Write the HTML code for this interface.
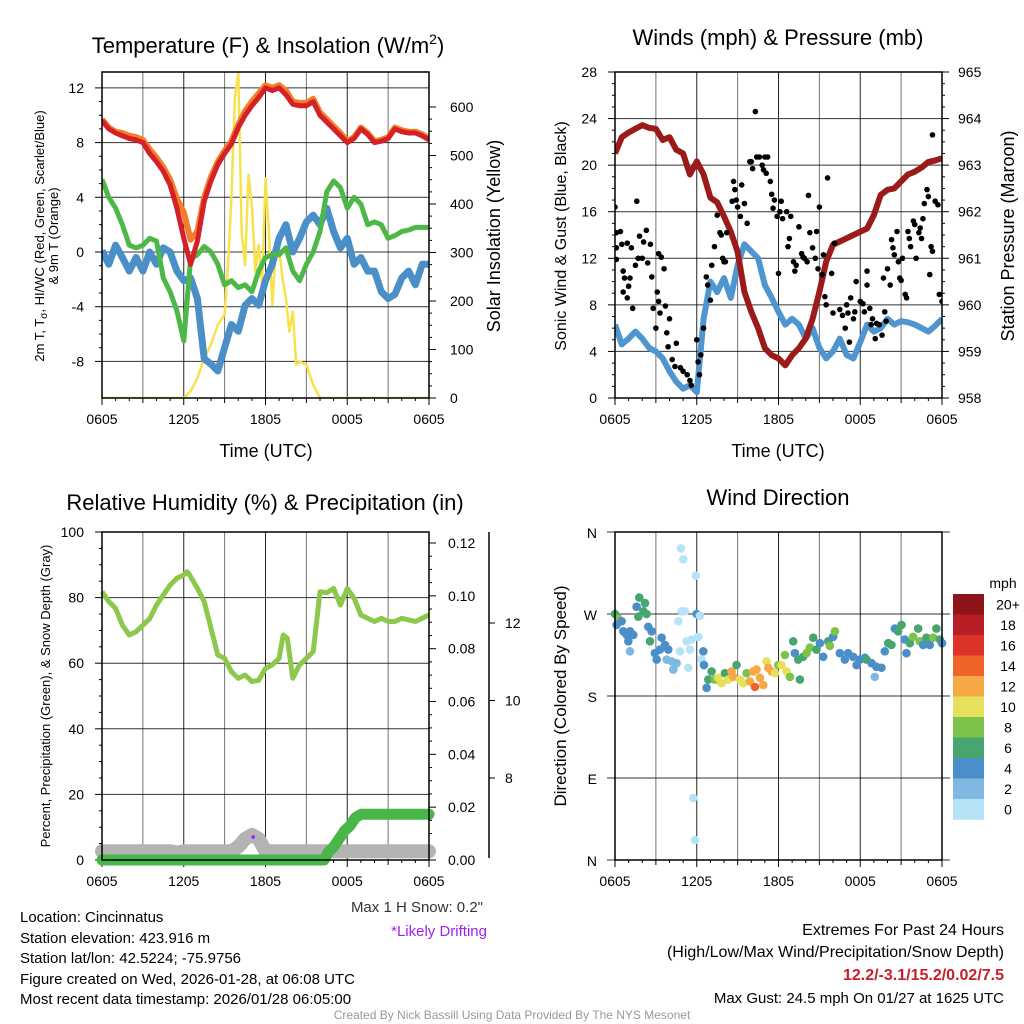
<!DOCTYPE html>
<html><head><meta charset="utf-8">
<style>
html,body{margin:0;padding:0;background:#fff;}
svg{display:block;font-family:"Liberation Sans",Arial,sans-serif;}
</style></head>
<body>
<svg id="root" width="1024" height="1024" viewBox="0 0 1024 1024" xmlns="http://www.w3.org/2000/svg">
<g id="texts" fill="#000">
<text x="268" y="53" font-size="22" text-anchor="middle">Temperature (F) &amp; Insolation (W/m<tspan font-size="14" dy="-9">2</tspan><tspan dy="9">)</tspan></text>
<text x="778" y="45" font-size="22" text-anchor="middle">Winds (mph) &amp; Pressure (mb)</text>
<text x="265" y="510" font-size="22" text-anchor="middle">Relative Humidity (%) &amp; Precipitation (in)</text>
<text x="778" y="505" font-size="22" text-anchor="middle">Wind Direction</text>
<text x="266" y="457" font-size="18" text-anchor="middle">Time (UTC)</text>
<text x="778" y="457" font-size="18" text-anchor="middle">Time (UTC)</text>
<text transform="translate(44,236) rotate(-90)" font-size="13" text-anchor="middle">2m T, T<tspan font-size="10" dy="3">σ</tspan><tspan dy="-3">, HI/WC (Red, Green, Scarlet/Blue)</tspan></text>
<text transform="translate(58,236) rotate(-90)" font-size="13" text-anchor="middle">&amp; 9m T (Orange)</text>
<text transform="translate(500,236) rotate(-90)" font-size="18" text-anchor="middle">Solar Insolation (Yellow)</text>
<text transform="translate(566,236) rotate(-90)" font-size="16" text-anchor="middle">Sonic Wind &amp; Gust (Blue, Black)</text>
<text transform="translate(1014,236) rotate(-90)" font-size="18" text-anchor="middle">Station Pressure (Maroon)</text>
<text transform="translate(50,696) rotate(-90)" font-size="13" text-anchor="middle">Percent, Precipitation (Green), &amp; Snow Depth (Gray)</text>
<text transform="translate(566,696) rotate(-90)" font-size="17" text-anchor="middle">Direction (Colored By Speed)</text>
<text x="483" y="912" font-size="15" text-anchor="end" fill="#333">Max 1 H Snow: 0.2"</text>
<text x="487" y="936" font-size="15" text-anchor="end" fill="#a020f0">*Likely Drifting</text>
<text x="20" y="922" font-size="15">Location: Cincinnatus</text>
<text x="20" y="943" font-size="15">Station elevation: 423.916 m</text>
<text x="20" y="963" font-size="15">Station lat/lon: 42.5224; -75.9756</text>
<text x="20" y="984" font-size="15">Figure created on Wed, 2026-01-28, at 06:08 UTC</text>
<text x="20" y="1004" font-size="15">Most recent data timestamp: 2026/01/28 06:05:00</text>
<text x="1004" y="935" font-size="16" text-anchor="end">Extremes For Past 24 Hours</text>
<text x="1004" y="957" font-size="16" text-anchor="end">(High/Low/Max Wind/Precipitation/Snow Depth)</text>
<text x="1004" y="980" font-size="16" font-weight="bold" text-anchor="end" fill="#c8202a">12.2/-3.1/15.2/0.02/7.5</text>
<text x="1004" y="1003" font-size="15" text-anchor="end">Max Gust: 24.5 mph On 01/27 at 1625 UTC</text>
<text x="512" y="1019" font-size="12" text-anchor="middle" fill="#999">Created By Nick Bassill Using Data Provided By The NYS Mesonet</text>
<text x="1003" y="588" font-size="14" text-anchor="middle">mph</text>
</g>
</svg>
<script>
// ---------- DATA ----------
const hourTicks = ["0605","1205","1805","0005","0605"];
const halfHours = [0,0.5,1,1.5,2,2.5,3,3.5,4,4.5,5,5.5,6,6.5,7,7.5,8,8.5,9,9.5,10,10.5,11,11.5,12,12.5,13,13.5,14,14.5,15,15.5,16,16.5,17,17.5,18,18.5,19,19.5,20,20.5,21,21.5,22,22.5,23,23.5,24];
const temp2m = [9.6,9.0,8.7,8.5,8.3,8.2,8.0,7.2,6.6,5.9,4.9,3.2,1.0,-0.9,0.8,3.7,5.2,6.4,7.2,7.9,9.1,10.0,10.7,11.3,12.0,11.8,12.0,11.5,10.8,10.7,10.7,11.0,10.0,9.5,9.0,8.5,8.0,8.3,9.0,8.6,8.0,8.1,8.3,9.0,8.8,8.7,8.7,8.5,8.2];
const temp9m = [9.7,9.1,8.8,8.7,8.5,8.4,8.2,7.5,6.9,6.2,5.3,3.9,2.9,0.9,1.5,4.0,5.5,6.6,7.4,8.1,9.3,10.3,11.0,11.6,12.2,12.0,12.2,11.8,11.0,10.9,10.9,11.2,10.2,9.7,9.2,8.7,8.1,8.4,9.1,8.7,8.1,8.2,8.4,9.1,8.9,8.8,8.8,8.6,8.3];
const tempGreen = [5.3,4.0,3.2,2.0,0.5,0.3,0.5,1.0,0.8,-1.9,-2.9,-4.3,-6.5,-0.5,-0.2,0.4,0.0,-0.9,-2.4,-2.1,-2.6,-2.4,-2.9,-1.4,-0.4,-0.2,-0.2,0.3,-1.4,-2.1,-0.9,0.0,1.5,4.4,5.2,4.7,3.2,4.0,3.5,2.0,2.2,2.0,1.0,1.2,1.5,1.6,1.8,1.8,1.8];
const tempBlue = [0.1,-0.9,0.5,-0.4,-1.4,-0.4,-1.4,0.0,-0.9,0.3,0.0,-1.4,-2.1,-1.9,-3.4,-7.8,-8.2,-8.7,-7.0,-5.3,-5.8,-3.9,-3.4,-3.9,-2.1,-0.9,1.0,2.0,0.0,1.0,2.2,2.7,2.0,3.2,1.5,0.3,1.0,-0.9,-0.4,-1.4,-1.4,-2.9,-3.4,-3.1,-1.9,-1.4,-2.4,-0.9,-0.9];
const solarHours = [0,6,6.5,7,7.5,8,8.5,9,9.25,9.5,9.75,10,10.25,10.5,10.75,11,11.25,11.5,11.75,12,12.25,12.5,12.75,13,13.25,13.5,13.75,14,14.25,14.5,15,15.5,16,24];
const solarValues = [0,0,14,41,82,110,151,172,274,412,617,672,343,274,460,398,261,316,233,453,343,192,302,309,247,206,137,178,69,75,69,27,0,0];
const pressure = [963.25,963.6,963.7,963.78,963.86,963.8,963.78,963.54,963.6,963.33,963.25,962.8,963.08,962.8,962.3,962.2,961.9,961.57,961.14,960.28,959.85,959.5,959.07,958.92,958.85,958.7,958.92,959.07,959.28,959.7,960.28,960.93,961.29,961.36,961.43,961.5,961.57,961.64,961.93,962.36,962.47,962.5,962.65,962.8,962.86,962.95,963.07,963.1,963.15];
const sonicWind = [6.3,4.6,5.1,5.7,5.1,4.3,4.0,3.4,2.3,1.4,0.8,1.1,0.5,6.8,10.0,9.1,10.3,8.6,11.4,13.2,12.6,12.0,9.7,8.6,7.4,6.3,6.8,6.3,5.1,6.0,4.3,3.4,4.0,5.1,3.7,3.4,4.8,6.3,5.7,6.0,6.8,6.3,6.6,6.5,6.3,6.0,5.7,6.2,6.8];
const gustHours = [0,0.1,0.4,0.1,0.5,0.1,0.9,1.2,0.6,0.7,1.0,0.6,0.9,1.1,1.3,1.5,1.6,1.7,1.8,2.1,2.3,2.0,2.4,2.6,2.7,2.8,3.0,3.2,3.4,3.6,3.1,3.2,3.3,3.7,3.8,3.9,4.0,4.2,4.4,4.5,4.8,5.0,5.3,5.5,5.6,6.0,6.1,6.2,6.3,6.5,6.7,6.8,7.0,7.1,7.3,7.5,7.7,7.8,7.9,8.0,8.1,8.2,8.6,8.7,8.8,8.9,9.0,9.2,9.3,9.5,9.7,9.9,10.0,10.1,10.3,10.4,10.6,10.8,10.9,11.1,11.0,11.2,11.4,11.5,11.6,11.7,11.9,12.0,12.1,12.2,12.3,12.6,12.7,12.8,12.9,13.1,13.2,13.3,13.5,13.7,13.8,13.9,14.1,14.2,14.3,14.5,14.7,14.8,14.9,15.0,15.2,15.3,15.4,15.5,15.6,15.9,16.1,16.0,16.5,16.7,16.9,17.0,17.1,17.2,17.3,17.5,17.6,17.7,18.0,18.2,18.3,18.5,18.5,18.7,18.8,18.9,19.1,19.2,19.4,19.6,19.7,19.8,19.9,20.0,20.2,20.3,20.4,20.5,20.7,20.8,20.9,21.0,21.1,21.3,21.4,21.5,21.6,21.7,21.9,22.0,22.1,22.3,22.4,22.5,22.6,22.7,22.9,23.0,23.1,23.2,23.3,23.3,23.5,23.7,23.8,24.0];
const gustMph = [16.4,14.2,14.3,12.9,13.2,11.9,13.3,12.9,10.9,10.3,9.6,9.1,8.6,10.3,7.7,11.4,16.9,12.0,13.9,13.4,14.4,12.0,11.6,13.2,10.4,7.7,6.0,12.4,12.1,11.1,9.1,8.3,7.3,7.9,5.6,4.4,6.8,3.3,2.7,4.7,2.6,2.3,2.0,1.5,1.1,5.0,3.1,2.0,3.7,6.0,10.4,9.7,8.4,11.4,13.0,15.7,14.2,14.0,12.0,11.7,11.7,14.2,16.9,18.6,17.9,17.0,16.4,15.6,18.3,16.7,15.0,20.3,20.3,19.7,24.6,20.7,20.7,20.0,19.6,19.3,20.7,20.7,18.6,17.5,16.3,17.0,15.6,10.7,16.0,16.9,15.4,16.0,13.0,13.7,15.6,11.7,10.9,11.4,14.7,12.4,12.1,12.0,11.7,17.4,14.2,12.9,12.0,14.3,11.1,16.4,10.6,12.3,8.7,8.0,18.9,10.7,13.3,7.3,7.6,7.1,6.0,8.0,7.3,4.8,8.6,6.8,7.4,10.0,8.3,8.1,7.4,9.7,10.9,7.7,6.3,6.8,5.1,6.4,6.3,5.4,10.3,7.4,6.6,11.1,9.7,13.6,12.9,12.3,14.3,11.7,10.3,10.1,12.0,8.9,8.6,14.3,13.7,13.0,15.2,14.9,12.0,14.2,14.6,13.7,15.4,16.7,17.9,17.3,10.6,13.0,22.6,12.6,16.9,16.6,8.9,8.3];
const rhHours = [0,0.5,1,1.5,2,2.5,3,3.5,4,4.5,5,5.5,6,6.25,6.5,7,7.5,8,8.5,9,9.5,10,10.5,11,11.5,12,12.5,13,13.3,13.6,14,14.5,15,15.5,16,16.5,17,17.5,18,18.5,19,19.5,20,20.5,21,21.5,22,23,24];
const rhValues = [81.8,78.8,76.7,71.6,68.6,69.6,71.6,73.6,77.7,80.8,83.8,85.9,86.9,87.9,86.4,82.8,78.8,70.6,62.5,61.5,57.4,55.4,56.4,54.4,54.8,58.4,59.5,61.5,68.6,67.6,55.4,59.5,61.5,63.5,81.8,81.5,82.8,77.7,82.8,79.8,74.7,73.7,72.7,73.7,72.7,72.7,73.7,72.7,74.7];
const precipHours = [0,16.3,16.6,17.0,17.4,17.8,18.2,18.6,19.0,24];
const precipValues = [0,0,0.003,0.005,0.008,0.011,0.013,0.016,0.0173,0.0173];
const snowHours = [0,5,5.5,6,9.5,10,10.5,11,11.5,12,24];
const snowValues = [0.0033,0.0033,0.0028,0.0033,0.0033,0.005,0.008,0.0095,0.008,0.0033,0.0033];
const driftHours = [11.1];
const driftValues = [0.0087];
const wdHours = [0,0.24,0.12,0.49,0.61,0.86,1.10,1.34,0.98,1.10,1.59,1.78,2.20,2.08,1.71,2.32,2.44,2.69,2.57,2.93,3.06,3.42,3.67,3.30,3.91,3.79,4.16,4.28,4.52,4.77,4.65,4.89,5.13,4.84,5.01,5.94,5.26,5.50,5.62,5.38,5.99,6.23,6.11,6.36,6.48,6.53,5.75,5.87,6.72,6.85,7.09,7.33,7.58,7.82,8.07,8.31,8.56,8.68,8.92,9.17,9.41,9.66,9.90,10.15,10.27,10.39,10.64,10.88,11.12,11.25,11.49,11.74,11.98,12.22,12.47,12.59,12.84,13.08,13.20,13.45,13.57,13.81,14.06,14.30,14.55,14.79,15.04,15.28,15.65,15.77,16.01,16.14,16.50,16.87,17.11,17.48,17.73,17.97,18.34,18.46,18.83,19.07,19.19,19.56,19.80,20.05,20.29,20.54,20.78,21.03,21.27,21.39,21.64,21.88,22.25,22.37,22.62,22.86,23.10,23.35,23.59,23.84,24.0];
const wdDeg = [270,265,258,262,251,247,251,247,240,229,278,288,282,273,267,270,256,251,240,227,220,244,236,231,231,220,218,209,216,229,262,273,273,342,330,312,240,231,242,211,270,268,245,220,229,214,68,22,189,198,207,198,200,194,205,198,207,201,214,198,194,205,196,207,190,209,200,192,218,211,207,205,214,214,225,207,201,240,227,220,198,223,227,233,244,231,238,223,240,235,245,251,227,220,227,223,214,220,222,220,216,201,212,211,229,238,236,254,251,258,242,227,238,245,254,240,236,244,236,244,254,242,238];
const wdSpeed = [7,9,5,5,5,5,5,5,5,3,5,7,7,7,7,7,5,5,7,5,5,5,5,5,5,3,3,3,3,1,1,1,1,1,1,1,1,1,1,1,5,1,1,1,5,5,1,1,5,7,7,9,11,11,7,11,13,13,7,11,11,9,13,13,15,13,13,13,11,13,13,11,9,11,9,11,9,7,5,7,7,7,9,9,7,7,5,5,7,9,5,9,5,5,5,5,5,5,5,7,5,3,5,5,5,7,7,5,7,7,5,5,7,9,7,9,5,7,5,9,7,7,5];
const speedBins = ["0","2","4","6","8","10","12","14","16","18","20+"];
const speedColors = ["#b6e3f8","#7fb9e3","#4a8fc8","#47a56f","#7dc24a","#e6e05a","#f5a843","#ef6329","#dc3328","#b91d26","#8d151a"];
const tempTicks = [-8,-4,0,4,8,12];
const solarTicks = [0,100,200,300,400,500,600];
const windTicks = [0,4,8,12,16,20,24,28];
const presTicks = [958,959,960,961,962,963,964,965];
const rhTicks = [0,20,40,60,80,100];
const precipTicks = [0,0.02,0.04,0.06,0.08,0.10,0.12];
const snowTicks = [8,10,12];
const dirTicks = ["N","E","S","W","N"];

// ---------- HELPERS ----------
const NS = "http://www.w3.org/2000/svg";
const root = document.getElementById("root");
function mk(tag, attrs, parent) {
  const e = document.createElementNS(NS, tag);
  for (const k in attrs) e.setAttribute(k, attrs[k]);
  (parent || root).appendChild(e);
  return e;
}
function lin(d0, d1, r0, r1) { return v => r0 + (v - d0) / (d1 - d0) * (r1 - r0); }
function pathD(xs, ys, sx, sy) {
  return xs.map((x, i) => (i ? "L" : "M") + sx(x).toFixed(1) + "," + sy(ys[i]).toFixed(1)).join("");
}
function txt(x, y, s, size, anchor, parent) {
  const t = mk("text", {x: x, y: y, "font-size": size, "text-anchor": anchor || "middle"}, parent);
  t.textContent = s;
  return t;
}
function frame(L, T, R, B, name) {
  const g = mk("g", {});
  
  
  const sx = lin(0, 24, L, R);
  for (let h = 3; h < 24; h += 3) {
    const l = mk("line", {x1: sx(h), x2: sx(h), y1: T, y2: B, stroke: "#000", "stroke-width": 1, "stroke-opacity": (h % 6 ? 0.55 : 0.85)}, g);
    
    
  }
  for (let h = 0; h <= 24; h += 1) {
    const major = h % 6 === 0;
    const mid = h % 3 === 0;
    const tk = mk("line", {x1: sx(h), x2: sx(h), y1: B, y2: B + (major ? 7 : (mid ? 5 : 3)), stroke: "#000", "stroke-width": 1}, g);
    
    
  }
  hourTicks.forEach((s, i) => {
    const t = txt(sx(i * 6), B + 26, s, 14, "middle", g);
    
    
  });
  return {g: g, sx: sx};
}
function hgrid(g, ticks, sy, L, R, ext) {
  ticks.forEach(v => {
    const l = mk("line", {x1: L, x2: R + (ext || 0), y1: sy(v), y2: sy(v), stroke: "#000", "stroke-width": 1, "stroke-opacity": 0.8}, g);
    
    
  });
}
function yTicks(g, ticks, sy, x, dir) {
  for (let i = 0; i < ticks.length; i++) {
    const a = ticks[i];
    const tk = mk("line", {x1: x, x2: x + dir * 7, y1: sy(a), y2: sy(a), stroke: "#000"}, g);
    
    
    if (i + 1 < ticks.length) {
      const b = ticks[i + 1];
      for (let k = 1; k < 4; k++) {
        const v = a + (b - a) * k / 4;
        const m = mk("line", {x1: x, x2: x + dir * 3, y1: sy(v), y2: sy(v), stroke: "#000"}, g);
        
        
      }
    }
  }
}
function yLabels(g, ticks, sy, x, anchor, fmt, size) {
  ticks.forEach(v => {
    const t = txt(x, sy(v) + 5, fmt ? fmt(v) : String(v), size || 14, anchor, g);
    
    
  });
}
function border(g, L, T, R, B) {
  const r = mk("rect", {x: L, y: T, width: R - L, height: B - T, fill: "none", stroke: "#000", "stroke-width": 1.5}, g);
  
  
}

// ---------- PANEL 1: Temperature ----------
(function(){
  const L = 102, T = 72, R = 429, B = 398;
  const f = frame(L, T, R, B, "temperature-panel");
  const g = f.g, sx = f.sx;
  const sy = lin(0, 4, 252, 197.3);
  const sS = lin(0, 600, 398, 107);
  hgrid(g, tempTicks, sy, L, R);
  yTicks(g, tempTicks, sy, L, -1);
  yTicks(g, solarTicks, sS, R, 1);
  yLabels(g, tempTicks, sy, 84, "end");
  yLabels(g, solarTicks, sS, 450, "start");
  const clip = mk("clipPath", {id: "c1"}, g);
  mk("rect", {x: L, y: T, width: R - L, height: B - T}, clip);
  const pg = mk("g", {"clip-path": "url(#c1)"}, g);
  const pSolar = mk("path", {d: pathD(solarHours, solarValues, sx, sS), fill: "none", stroke: "#f9e14b", "stroke-width": 2.5, "stroke-linejoin": "round"}, pg);
  
  
  const pBlue = mk("path", {d: pathD(halfHours, tempBlue, sx, sy), fill: "none", stroke: "#4a8fc8", "stroke-width": 7, "stroke-linejoin": "round"}, pg);
  
  
  const pGreen = mk("path", {d: pathD(halfHours, tempGreen, sx, sy), fill: "none", stroke: "#4db848", "stroke-width": 5, "stroke-linejoin": "round"}, pg);
  
  
  const pOr = mk("path", {d: pathD(halfHours, temp9m, sx, sy), fill: "none", stroke: "#f47c2a", "stroke-width": 6, "stroke-linejoin": "round"}, pg);
  
  
  const pRed = mk("path", {d: pathD(halfHours, temp2m, sx, sy), fill: "none", stroke: "#d42027", "stroke-width": 5, "stroke-linejoin": "round"}, pg);
  
  
  border(g, L, T, R, B);
})();

// ---------- PANEL 2: Winds ----------
(function(){
  const L = 615, T = 72, R = 942, B = 398;
  const f = frame(L, T, R, B, "winds-panel");
  const g = f.g, sx = f.sx;
  const sy = lin(0, 28, B, T);
  const sp = lin(958, 965, B, T);
  hgrid(g, windTicks, sy, L, R);
  yTicks(g, windTicks, sy, L, -1);
  yTicks(g, presTicks, sp, R, 1);
  yLabels(g, windTicks, sy, 597, "end");
  yLabels(g, presTicks, sp, 958, "start");
  const clip = mk("clipPath", {id: "c2"}, g);
  mk("rect", {x: L, y: T, width: R - L, height: B - T}, clip);
  const pg = mk("g", {"clip-path": "url(#c2)"}, g);
  const pW = mk("path", {d: pathD(halfHours, sonicWind, sx, sy), fill: "none", stroke: "#4f95d0", "stroke-width": 6, "stroke-linejoin": "round"}, pg);
  
  
  const pP = mk("path", {d: pathD(halfHours, pressure, sx, sp), fill: "none", stroke: "#9b1a1a", "stroke-width": 6, "stroke-linejoin": "round"}, pg);
  
  
  gustHours.forEach((h, i) => {
    const c = mk("circle", {cx: sx(h), cy: sy(gustMph[i]), r: 2.8, fill: "#000"}, pg);
    
    
  });
  border(g, L, T, R, B);
})();

// ---------- PANEL 3: Humidity ----------
(function(){
  const L = 102, T = 532, R = 429, B = 860;
  const f = frame(L, T, R, B, "humidity-panel");
  const g = f.g, sx = f.sx;
  const sy = lin(0, 100, B, T);
  const spr = lin(0, 0.12, 860, 543);
  hgrid(g, rhTicks, sy, L, R);
  yTicks(g, rhTicks, sy, L, -1);
  yTicks(g, precipTicks, spr, R, 1);
  yLabels(g, rhTicks, sy, 84, "end");
  yLabels(g, precipTicks, spr, 448, "start", v => v.toFixed(2));
  const ax = mk("line", {x1: 489, x2: 489, y1: 532, y2: 858, stroke: "#000", "stroke-width": 1.5}, g);
  
  
  const ss = lin(8, 12, 778, 623);
  snowTicks.forEach(v => {
    const tk = mk("line", {x1: 489, x2: 495, y1: ss(v), y2: ss(v), stroke: "#000"}, g);
    
    
  });
  yLabels(g, snowTicks, ss, 505, "start");
  const clip = mk("clipPath", {id: "c3"}, g);
  mk("rect", {x: L - 8, y: T, width: R - L + 16, height: B - T + 8}, clip);
  const pg = mk("g", {"clip-path": "url(#c3)"}, g);
  const pRH = mk("path", {d: pathD(rhHours, rhValues, sx, sy), fill: "none", stroke: "#8cc84b", "stroke-width": 5, "stroke-linejoin": "round"}, pg);
  
  
  const pSnow = mk("path", {d: pathD(snowHours, snowValues, sx, spr), fill: "none", stroke: "#b3b3b3", "stroke-width": 14, "stroke-linecap": "round", "stroke-linejoin": "round"}, pg);
  
  
  const pPr = mk("path", {d: pathD(precipHours, precipValues, sx, spr), fill: "none", stroke: "#49b64a", "stroke-width": 11, "stroke-linecap": "round", "stroke-linejoin": "round"}, pg);
  
  
  driftHours.forEach((h, i) => {
    const c = mk("circle", {cx: sx(h), cy: spr(driftValues[i]), r: 1.8, fill: "#a020f0"}, pg);
    
    
  });
  border(g, L, T, R, B);
})();

// ---------- PANEL 4: Wind direction ----------
(function(){
  const L = 615, T = 532, R = 942, B = 860;
  const f = frame(L, T, R, B, "wind-direction-panel");
  const g = f.g, sx = f.sx;
  const sy = lin(0, 360, B, T);
  const dVals = [0, 90, 180, 270, 360];
  hgrid(g, dVals, sy, L - 8, R, 8);
  dVals.forEach((v, i) => {
    const t = txt(597, sy(v) + 6, dirTicks[i], 14, "end", g);
    
    
  });
  wdHours.forEach((h, i) => {
    const bin = Math.min(10, Math.floor(wdSpeed[i] / 2));
    const c = mk("circle", {cx: sx(h), cy: sy(wdDeg[i]), r: 4.3, fill: speedColors[bin]}, g);
    
    
  });
  border(g, L, T, R, B);
  const cb = mk("g", {});
  
  
  const top = 594, h = 20.5;
  for (let i = 0; i < speedBins.length; i++) {
    const k = speedBins.length - 1 - i;
    const r = mk("rect", {x: 953, y: top + i * h, width: 31, height: h + 0.3, fill: speedColors[k]}, cb);
    
    
    const t = txt(1008, top + i * h + h / 2 + 5, speedBins[k], 14, "middle", cb);
    
    
  }
})();
</script>
</body></html>
